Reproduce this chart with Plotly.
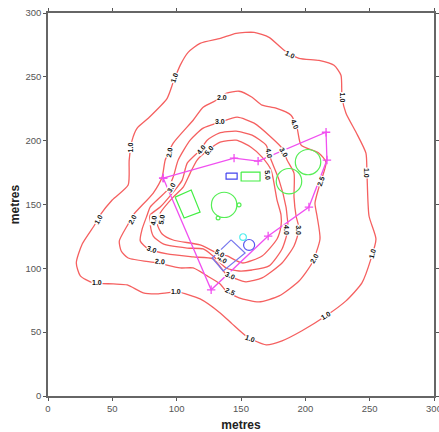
import plotly.graph_objects as go

# Contour lines (metres)
c1_x = [133.9,118.2,108.9,102.7,97.3,92.6,77.9,69.3,65.4,63.1,62.3,49.9,40.6,36.7,26.6,22.0,25.1,35.2,50.7,61.6,74.0,84.9,100.4,118.2,133.8,143.1,154.7,169.5,181.9,197.4,216.1,231.6,244.0,251.0,254.9,249.5,247.9,247.1,239.4,231.6,228.5,227.7,222.3,210.6,195.1,183.5,171.8,160.2,146.2,133.9]
c1_y = [280.1,276.2,269.2,259.0,245.7,233.2,217.6,209.8,200.4,184.8,165.2,153.5,141.8,134.7,119.1,104.2,94.1,88.6,87.8,87.0,80.8,80.0,81.5,76.1,65.1,56.5,46.4,40.1,43.2,51.1,62.8,74.5,88.6,107.4,123.0,141.0,174.6,190.2,206.6,221.5,234.0,251.2,259.0,262.9,264.5,270.8,280.9,284.8,284.1,280.1]
c2_x = [133.8,120.6,112.8,97.3,91.1,88.7,81.8,66.2,62.3,55.4,56.9,62.3,84.9,102.7,112.8,123.7,133.8,138.4,148.5,164.0,179.6,195.1,205.2,211.4,209.1,207.5,210.6,216.1,210.6,196.7,193.6,188.9,177.2,166.4,158.6,148.5,138.4,133.8]
c2_y = [233.2,226.2,216.0,198.0,184.8,171.5,159.0,141.8,134.7,121.4,113.6,108.1,104.2,100.3,100.3,94.1,87.8,82.3,76.9,73.7,78.4,90.1,104.2,123.0,141.0,151.1,163.6,183.2,190.2,196.5,209.8,219.9,225.4,227.8,234.0,238.7,237.1,233.2]
c3_x = [133.8,120.6,110.5,101.2,97.3,92.6,79.4,77.1,73.2,71.7,77.9,92.6,112.8,128.3,138.4,146.2,153.9,166.4,181.9,191.2,195.1,192.8,191.2,191.2,185.8,181.9,173.4,160.2,147.0,133.8]
c3_y = [214.5,209.8,200.4,184.8,171.5,161.3,148.0,141.8,130.8,121.4,115.2,111.3,108.9,107.4,95.6,91.7,89.4,92.5,104.2,117.5,130.8,141.0,155.8,174.6,184.8,194.1,202.7,213.7,218.4,214.5]
c4_x = [133.0,123.7,118.2,108.2,104.3,97.3,87.2,79.4,79.4,81.8,89.5,108.2,120.6,128.3,138.4,148.5,158.6,171.8,181.9,186.6,185.8,185.0,179.6,173.4,169.5,158.6,146.2,133.0]
c4_y = [205.9,200.4,192.6,182.4,169.1,159.7,148.0,141.8,134.7,125.3,119.1,115.9,115.2,109.7,100.3,97.9,98.7,101.9,115.2,130.8,141.0,148.0,169.1,184.8,196.5,204.3,207.4,205.9]
c5_x = [133.8,124.5,115.9,110.5,105.1,97.3,87.2,84.9,88.7,97.3,118.2,131.5,139.3,151.0,166.4,178.0,181.1,181.1,178.0,173.4,166.4,157.8,146.2,133.8]
c5_y = [198.8,192.6,184.8,174.6,163.6,155.8,143.3,134.7,126.9,122.2,118.3,112.0,109.7,104.2,109.7,123.0,133.2,141.8,153.5,176.9,187.1,194.9,200.4,198.8]
contours = [(c1_x, c1_y), (c2_x, c2_y), (c3_x, c3_y), (c4_x, c4_y), (c5_x, c5_y)]

# Contour labels: x, y, text, angle
label_x = [98.1,64,39,38.3,99.6,157,216,252,248,229,188,
           94.2,65.4,87.2,141.5,206.8,212,192,135.3,
           95.8,81,141.5,195,183.5,133.8,
           119,81.8,185.7,172,135.3,
           125,88,133.8,171]
label_y = [249.6,195,138.6,88.6,81.6,44.8,62.8,111.8,174.6,234,267.5,
           191,138.6,105,81.5,108,168,212.9,234,
           163.6,115,94,130,191,215,
           193.3,137.8,130,190,106.6,
           192.4,138.6,112,173]
label_text = ["1.0"]*11 + ["2.0","2.0","2.0","2.5","2.0","2.5","4.0","2.0"] + ["3.0"]*6 + ["4.0"]*5 + ["5.0"]*4
label_angle = [-70,-90,-60,0,0,20,-30,-75,90,90,25,
               -80,-60,5,25,-60,-70,70,0,
               -60,20,25,90,60,0,
               -50,-80,90,80,30,
               -50,-80,30,85]

# Survey polygon
poly_x = [89.5,144.6,163.3,216.1,216.8,202.8,171.1,126.8,89.5]
poly_y = [170.7,186.3,184.0,206.6,184.8,148.0,125.3,83.2,170.7]

# Buildings
green_box_x = [98.8,111.3,118.2,105.8,98.8]
green_box_y = [155.8,161.3,144.1,139.4,155.8]
blue_box_x = [138.4,147.0,147.0,138.4,138.4]
blue_box_y = [174.6,174.6,169.9,169.9,174.6]
green_rect_x = [150.1,164.8,164.8,150.1,150.1]
green_rect_y = [175.4,175.4,168.4,168.4,175.4]
diamond_x = [142.3,153.2,136.1,127.6,142.3]
diamond_y = [122.3,112.0,98.0,108.1,122.3]

# Circles: centre x, centre y, radius, colour
circle_x = [136.9,187.3,202.1,156.3,151.6,132.2,148.5]
circle_y = [149.7,168.3,183.2,118.3,124.5,139.4,149.7]
circle_r = [9.9,9.9,9.9,4.3,2.6,1.5,1.5]
circle_c = ["#55ee55","#55ee55","#55ee55","#5555ee","#55eeee","#55ee55","#55ee55"]

x_ticks = [0,50,100,150,200,250,300]
y_ticks = [0,50,100,150,200,250,300]

fig = go.Figure()
for cx, cy in contours:
    fig.add_trace(go.Scatter(x=cx, y=cy, mode="lines", line=dict(color="#f56060", width=1.3, shape="spline", smoothing=0.6), hoverinfo="skip"))
for bx, by, col in [(green_box_x, green_box_y, "#44ee44"), (blue_box_x, blue_box_y, "#4444ee"),
                    (green_rect_x, green_rect_y, "#44ee44"), (diamond_x, diamond_y, "#7777ee")]:
    fig.add_trace(go.Scatter(x=bx, y=by, mode="lines", line=dict(color=col, width=1.2), hoverinfo="skip"))
fig.add_trace(go.Scatter(x=poly_x, y=poly_y, mode="lines+markers",
                         line=dict(color="#f050f0", width=1.3),
                         marker=dict(symbol="cross-thin", size=6, line=dict(color="#f050f0", width=1.3)), hoverinfo="skip"))
for x, y, r, c in zip(circle_x, circle_y, circle_r, circle_c):
    fig.add_shape(type="circle", xref="x", yref="y", x0=x-r, x1=x+r, y0=y-r, y1=y+r, line=dict(color=c, width=1.2))
for x, y, t, a in zip(label_x, label_y, label_text, label_angle):
    fig.add_annotation(x=x, y=y, text=t, showarrow=False, textangle=a, bgcolor="white", borderpad=0,
                       font=dict(family="Liberation Sans", size=7, color="#111111", weight="bold"))

axis = dict(range=[0,300], showgrid=False, zeroline=False, ticks="outside", ticklen=3, tickwidth=1,
            tickcolor="#555555", showline=True, linecolor="#666666", linewidth=1.6, mirror="ticks",
            automargin=False, ticklabeloverflow="allow",
            tickfont=dict(family="Liberation Sans", size=9.5, color="#555555"))
fig.update_layout(
    width=439, height=432, showlegend=False, plot_bgcolor="white", paper_bgcolor="white",
    margin=dict(l=48, r=5, t=13, b=36),
    xaxis=dict(axis, tickvals=x_ticks, title=dict(text="<b>metres</b>", standoff=7, font=dict(family="Liberation Sans", size=12, color="#222222"))),
    yaxis=dict(axis, tickvals=y_ticks, title=dict(text="<b>metres</b>", standoff=3, font=dict(family="Liberation Sans", size=12, color="#222222"))),
)
fig.write_html("out.html", config={"displayModeBar": False},
               post_script="document.body.style.margin='0';document.documentElement.style.overflow='hidden';")
